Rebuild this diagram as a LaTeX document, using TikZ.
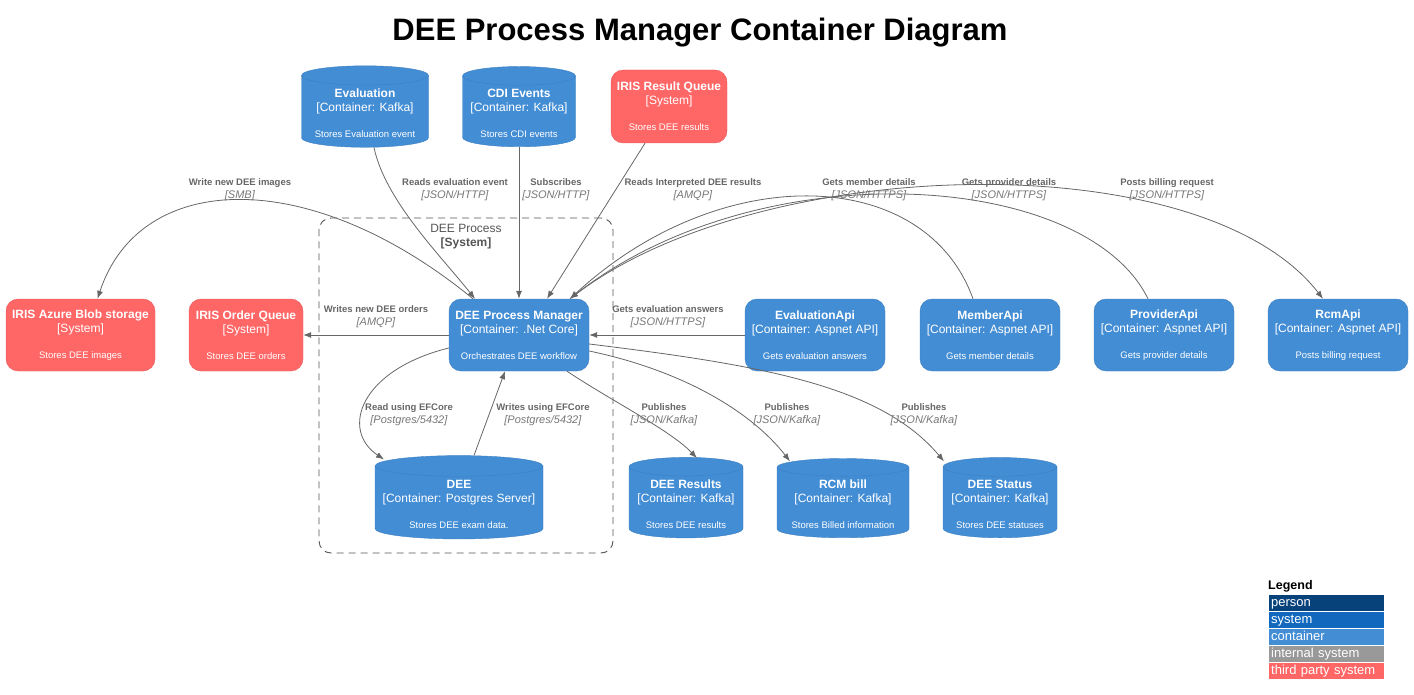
\documentclass[tikz,border=0pt]{standalone}
\usepackage{fontspec}
\setmainfont{Liberation Sans}
\usetikzlibrary{shapes.geometric, arrows.meta}

\definecolor{cblue}{HTML}{438DD5}
\definecolor{cblueline}{HTML}{3C7FC0}
\definecolor{cred}{HTML}{FF6666}
\definecolor{credline}{HTML}{E65C5C}
\definecolor{cperson}{HTML}{08427B}
\definecolor{csystem}{HTML}{1168BD}
\definecolor{cinternal}{HTML}{999999}
\definecolor{cedge}{HTML}{666666}
\definecolor{ctech}{HTML}{777777}
\definecolor{cbound}{HTML}{555555}
\newcommand{\descfont}{\fontsize{9.5}{11}\selectfont}

\begin{document}
\begin{tikzpicture}[x=1pt, y=-1pt, kafka/.style={cylinder, shape border rotate=90, aspect=0.18, draw=cblueline, fill=cblue, text=white, align=center, minimum height=77pt, font=\fontsize{12}{14}\selectfont}, cont/.style={rectangle, rounded corners=12pt, draw=cblueline, fill=cblue, text=white, align=center, minimum width=140pt, minimum height=72pt, font=\fontsize{12}{14}\selectfont}, ext/.style={cont, draw=credline, fill=cred}, n/.style={-{Latex[length=8pt, width=6pt]}, draw=cedge, line width=0.8pt}, lbl/.style={align=center, text=cedge, inner sep=0pt, font=\fontsize{11}{13}\selectfont}, legendbox/.style={draw=white, text=white, text width=110pt, text height=10pt, text depth=3pt, inner xsep=3pt, inner ysep=2pt, align=left, anchor=north west, font=\fontsize{13}{15}\selectfont}]
            \useasboundingbox (0,0) rectangle (1414,695);
            % title
            \node[font=\fontsize{31}{36}\selectfont\bfseries] (title) at (700,33) {DEE Process Manager Container Diagram};
            % boundary
            \node[draw=cbound, line width=0.9pt, dash pattern=on 7pt off 5pt, rounded corners=12pt, minimum width=294pt, minimum height=335pt] (bound) at (466,385.5) {};
            \node[align=center, text=cbound, font=\fontsize{12}{14}\selectfont] (boundlbl) at (466,237) {DEE Process\\\textbf{[System]}};
            % nodes
            \node[kafka, minimum width=127pt] (evalq) at (365,113) {\textbf{Evaluation}\\{[Container: Kafka]}\\[12pt]{\descfont Stores Evaluation event}};
            \node[kafka, minimum width=113pt] (cdi) at (519,113) {\textbf{CDI Events}\\{[Container: Kafka]}\\[12pt]{\descfont Stores CDI events}};
            \node[ext, minimum width=116pt, minimum height=73pt] (result) at (669,106.5) {\textbf{IRIS Result Queue}\\{[System]}\\[12pt]{\descfont Stores DEE results}};
            \node[ext, minimum width=149pt] (blob) at (80.5,335) {\textbf{IRIS Azure Blob storage}\\{[System]}\\[12pt]{\descfont Stores DEE images}};
            \node[ext, minimum width=114pt] (order) at (246,335) {\textbf{IRIS Order Queue}\\{[System]}\\[12pt]{\descfont Stores DEE orders}};
            \node[cont] (pm) at (519,335) {\textbf{DEE Process Manager}\\{[Container: .Net Core]}\\[12pt]{\descfont Orchestrates DEE workflow}};
            \node[cont] (evalapi) at (815,335) {\textbf{EvaluationApi}\\{[Container: Aspnet API]}\\[12pt]{\descfont Gets evaluation answers}};
            \node[cont] (member) at (990,335) {\textbf{MemberApi}\\{[Container: Aspnet API]}\\[12pt]{\descfont Gets member details}};
            \node[cont] (provider) at (1164,335) {\textbf{ProviderApi}\\{[Container: Aspnet API]}\\[12pt]{\descfont Gets provider details}};
            \node[cont] (rcmapi) at (1338,335) {\textbf{RcmApi}\\{[Container: Aspnet API]}\\[12pt]{\descfont Posts billing request}};
            \node[kafka, minimum width=168pt, aspect=0.13] (dee) at (459,504) {\textbf{DEE}\\{[Container: Postgres Server]}\\[12pt]{\descfont Stores DEE exam data.}};
            \node[kafka, minimum width=114pt] (results) at (686,504) {\textbf{DEE Results}\\{[Container: Kafka]}\\[12pt]{\descfont Stores DEE results}};
            \node[kafka, minimum width=132pt, aspect=0.16] (rcmbill) at (843,504) {\textbf{RCM bill}\\{[Container: Kafka]}\\[12pt]{\descfont Stores Billed information}};
            \node[kafka, minimum width=114pt] (status) at (1000,504) {\textbf{DEE Status}\\{[Container: Kafka]}\\[12pt]{\descfont Stores DEE statuses}};
            % edges
            \draw[n] ([xshift=9pt]evalq.south) .. controls (385,200) and (440,255) .. ([xshift=-44pt]pm.north);
            \draw[n] (cdi.south) -- (pm.north);
            \draw[n] ([xshift=-24pt]result.south) -- ([xshift=28pt]pm.north);
            \draw[n] ([xshift=-46pt]pm.north) .. controls (310,165) and (140,170) .. ([xshift=17pt]blob.north);
            \draw[n] (pm) -- (order);
            \draw[n] (evalapi) -- (pm);
            \draw[n] ([xshift=-17pt]member.north) .. controls (925,165) and (720,160) .. ([xshift=51pt]pm.north);
            \draw[n] ([xshift=-16pt]provider.north) .. controls (1085,170) and (760,150) .. ([xshift=51pt]pm.north);
            \draw[n] ([xshift=51pt]pm.north) .. controls (750,155) and (1200,140) .. ([xshift=-15pt]rcmapi.north);
            \draw[n] ([yshift=-13pt]pm.west) .. controls (360,370) and (340,430) .. ([xshift=-75pt, yshift=-4pt]dee.north);
            \draw[n] ([xshift=15pt]dee.north) -- ([xshift=-14pt]pm.south);
            \draw[n] ([xshift=48pt]pm.south) .. controls (610,400) and (670,430) .. ([xshift=11pt, yshift=-1pt]results.north);
            \draw[n] ([yshift=-16pt]pm.east) .. controls (680,370) and (750,410) .. ([xshift=-53pt, yshift=-3pt]rcmbill.north);
            \draw[n] ([yshift=-9pt]pm.east) .. controls (760,365) and (880,385) .. ([xshift=-56pt, yshift=-4pt]status.north);
            % edge labels
            \node[lbl] (lblimages) at (240,189.5) {{\descfont\bfseries Write new DEE images}\\\textcolor{ctech}{\textit{[SMB]}}};
            \node[lbl] (lblevent) at (455,189.5) {{\descfont\bfseries Reads evaluation event}\\\textcolor{ctech}{\textit{[JSON/HTTP]}}};
            \node[lbl] (lblsub) at (556,189.5) {{\descfont\bfseries Subscribes}\\\textcolor{ctech}{\textit{[JSON/HTTP]}}};
            \node[lbl] (lblresult) at (693,189.5) {{\descfont\bfseries Reads Interpreted DEE results}\\\textcolor{ctech}{\textit{[AMQP]}}};
            \node[lbl] (lblmember) at (869,189.5) {{\descfont\bfseries Gets member details}\\\textcolor{ctech}{\textit{[JSON/HTTPS]}}};
            \node[lbl] (lblprovider) at (1009,189.5) {{\descfont\bfseries Gets provider details}\\\textcolor{ctech}{\textit{[JSON/HTTPS]}}};
            \node[lbl] (lblbilling) at (1167,189.5) {{\descfont\bfseries Posts billing request}\\\textcolor{ctech}{\textit{[JSON/HTTPS]}}};
            \node[lbl] (lblorders) at (376,316.5) {{\descfont\bfseries Writes new DEE orders}\\\textcolor{ctech}{\textit{[AMQP]}}};
            \node[lbl] (lblanswers) at (668,316.5) {{\descfont\bfseries Gets evaluation answers}\\\textcolor{ctech}{\textit{[JSON/HTTPS]}}};
            \node[lbl] (lblread) at (409,414.5) {{\descfont\bfseries Read using EFCore}\\\textcolor{ctech}{\textit{[Postgres/5432]}}};
            \node[lbl] (lblwrite) at (543,414.5) {{\descfont\bfseries Writes using EFCore}\\\textcolor{ctech}{\textit{[Postgres/5432]}}};
            \node[lbl] (lblpubres) at (664,414.5) {{\descfont\bfseries Publishes}\\\textcolor{ctech}{\textit{[JSON/Kafka]}}};
            \node[lbl] (lblpubbill) at (787,414.5) {{\descfont\bfseries Publishes}\\\textcolor{ctech}{\textit{[JSON/Kafka]}}};
            \node[lbl] (lblpubstatus) at (924,414.5) {{\descfont\bfseries Publishes}\\\textcolor{ctech}{\textit{[JSON/Kafka]}}};
            % legend
            \node[anchor=west, inner sep=0pt, font=\fontsize{12.5}{14}\selectfont\bfseries] (legend) at (1268,586) {Legend};
            \node[legendbox, fill=cperson] (lgperson) at (1268,594) {person};
            \node[legendbox, fill=csystem] (lgsystem) at (1268,611) {system};
            \node[legendbox, fill=cblue] (lgcontainer) at (1268,628) {container};
            \node[legendbox, fill=cinternal] (lginternal) at (1268,645) {internal system};
            \node[legendbox, fill=cred] (lgthird) at (1268,662) {third party system};
        \end{tikzpicture}
\end{document}
